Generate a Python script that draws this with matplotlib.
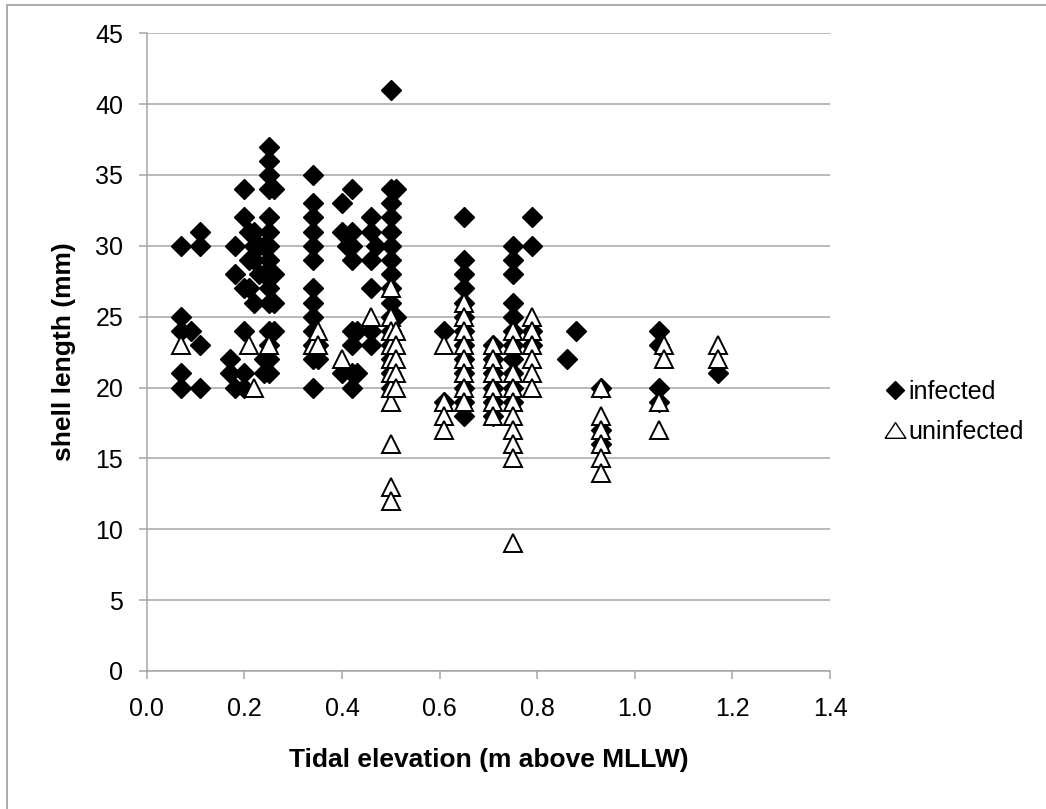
import matplotlib
matplotlib.use('Agg')
from matplotlib import pyplot as plt
from matplotlib.lines import Line2D
from matplotlib.patches import Rectangle
import numpy as np

plt.rcParams['font.family'] = ['Liberation Sans', 'DejaVu Sans']

# infected snails: tidal elevation (m above MLLW) -> shell lengths (mm)
inf_x = [0.07, 0.09, 0.11, 0.17, 0.18, 0.20, 0.21, 0.22, 0.23, 0.24, 0.25, 0.26,
         0.34, 0.35, 0.40, 0.41, 0.42, 0.43, 0.46, 0.47, 0.50, 0.51, 0.61, 0.65,
         0.71, 0.75, 0.79, 0.86, 0.88, 0.93, 1.05, 1.17]
inf_y = [[30, 25, 24, 21, 20], [24], [31, 30, 23, 20], [22, 21], [30, 28, 20],
         [34, 32, 27, 24, 21, 20], [31, 29, 27], [31, 30, 29, 26], [30, 28],
         [30, 28, 22, 21],
         [37, 36, 35, 34, 32, 31, 30, 29, 28, 27, 26, 24, 23, 22, 21],
         [34, 28, 26, 24],
         [35, 33, 32, 31, 30, 29, 27, 26, 25, 24, 23, 22, 20], [23, 22],
         [33, 31, 21], [30], [34, 31, 30, 29, 24, 23, 21, 20], [24, 21],
         [32, 31, 29, 27, 24, 23], [30],
         [41, 34, 33, 32, 31, 30, 29, 28, 27, 26, 25, 24, 23, 22, 21, 20],
         [34, 25], [24, 19],
         [32, 29, 28, 27, 26, 25, 24, 23, 22, 21, 20, 19, 18],
         [23, 22, 21, 20, 19, 18],
         [30, 29, 28, 26, 25, 24, 23, 22, 21, 20, 19],
         [32, 30, 24, 23], [22], [24], [20, 17, 16], [24, 23, 20, 19], [21]]

# uninfected snails
uninf_x = [0.07, 0.21, 0.22, 0.25, 0.34, 0.35, 0.40, 0.46, 0.50, 0.51, 0.61,
           0.65, 0.71, 0.75, 0.79, 0.93, 1.05, 1.06, 1.17]
uninf_y = [[23], [23], [20], [23], [23], [24, 23], [22], [25],
           [27, 25, 24, 23, 22, 21, 20, 19, 16, 13, 12],
           [24, 23, 22, 21, 20], [23, 19, 18, 17],
           [26, 25, 24, 23, 22, 21, 20, 19], [23, 22, 21, 20, 19, 18],
           [24, 23, 21, 20, 19, 18, 17, 16, 15, 9],
           [25, 24, 23, 22, 21, 20], [20, 18, 17, 16, 15, 14], [19, 17],
           [23, 22], [23, 22]]


def flatten(xs, ys):
    px, py = [], []
    for x, col in zip(xs, ys):
        px += [x] * len(col)
        py += col
    return np.array(px), np.array(py)


ix, iy = flatten(inf_x, inf_y)
ux, uy = flatten(uninf_x, uninf_y)

grey = '#a6a6a6'
fs = 18
fig = plt.figure(figsize=(10.46, 8.09), dpi=100)
ax = fig.add_axes([0.1403, 0.1706, 0.6533, 0.7883])

ax.plot(ix, iy, linestyle='none', marker='D', ms=10, color='black', zorder=3)
ax.plot(ux, uy, linestyle='none', marker='^', ms=13, mfc='white', mec='black',
        mew=1.4, zorder=4)

ax.set_xlim(0, 1.4)
ax.set_ylim(0, 45)
ax.set_xticks(np.arange(0, 1.41, 0.2))
ax.set_xticklabels(['%.1f' % v for v in np.arange(0, 1.41, 0.2)])
ax.set_yticks(np.arange(0, 46, 5))
ax.grid(axis='y', color=grey, lw=1.1)
ax.set_axisbelow(True)
for s in ['top', 'right']:
    ax.spines[s].set_visible(False)
for s in ['left', 'bottom']:
    ax.spines[s].set_color(grey)
    ax.spines[s].set_linewidth(1.1)
ax.tick_params(axis='both', colors=grey, labelcolor='black', labelsize=fs,
               length=6, width=1.1, direction='out')
ax.tick_params(axis='y', pad=11)
ax.tick_params(axis='x', pad=13)

ax.set_xlabel('Tidal elevation (m above MLLW)', fontsize=19,
              fontweight='bold', labelpad=19)
ax.set_ylabel('shell length (mm)', fontsize=19, fontweight='bold',
              labelpad=14)

# legend
tri = [(-1, -0.75), (1, -0.75), (0, 0.75), (-1, -0.75)]
handles = [Line2D([], [], linestyle='none', marker='D', ms=9, color='black'),
           Line2D([], [], linestyle='none', marker=tri, ms=15, mfc='white',
                  mec='black', mew=1.0)]
ax.legend(handles, ['infected', 'uninfected'], loc='center left',
          bbox_to_anchor=(0.8437, 0.4905), bbox_transform=fig.transFigure,
          frameon=False, fontsize=fs, handlelength=1.0, handletextpad=0.02,
          labelspacing=0.64, borderpad=0, borderaxespad=0)

# chart border (clipped on the right and bottom like the original)
fig.add_artist(Rectangle((7 / 1046, -0.1), 1.2, 1.1 - 4.5 / 809,
                         transform=fig.transFigure, fill=False,
                         edgecolor=grey, lw=1.3))

fig.savefig('out.png', dpi=100)
